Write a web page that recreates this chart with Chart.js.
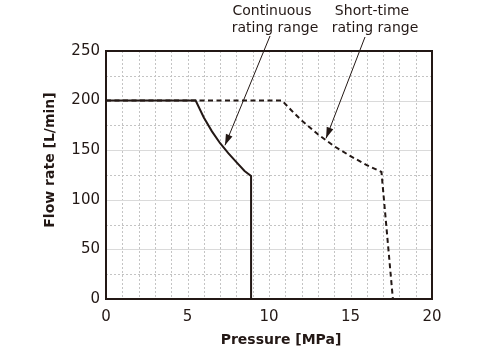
<!DOCTYPE html>
<html>
<head>
<meta charset="utf-8">
<script src="https://cdn.jsdelivr.net/npm/chart.js@4/dist/chart.umd.min.js"></script>
<style>
html,body{margin:0;padding:0;background:#fff;}
#wrap{width:501px;height:356px;position:relative;}
</style>
</head>
<body>
<div id="wrap"><canvas id="c" width="501" height="356"></canvas></div>
<script>
// Data
const continuousP = [0, 5.5, 6, 6.5, 7, 7.5, 8, 8.5, 8.9, 8.9];
const continuousQ = [200, 200, 183, 169, 157, 147, 138, 129, 124, 0];
const shortP = [0, 10.8, 11.5, 12, 13, 14, 15, 16, 16.9, 17.6];
const shortQ = [200, 200, 188, 180, 166, 154, 144, 135, 128, 0];
const xTicks = [0, 5, 10, 15, 20];
const yTicks = [0, 50, 100, 150, 200, 250];
const xTitle = 'Pressure [MPa]';
const yTitle = 'Flow rate [L/min]';
const noteContinuous = ['Continuous', 'rating range'];
const noteShort = ['Short-time', 'rating range'];
const noteContinuousTarget = [7.3, 155];
const noteShortTarget = [13.5, 162];

const INK = '#231815';
const toPts = (xs, ys) => xs.map((x, i) => ({x: x, y: ys[i]}));

const deco = {
  id: 'deco',
  beforeDatasetsDraw(chart) {
    const {ctx, chartArea: a, scales: {x, y}} = chart;
    ctx.save();
    ctx.lineWidth = 1;
    // minor dotted grid
    ctx.strokeStyle = '#c4c4c4';
    ctx.setLineDash([2, 2]);
    for (let v = 1; v < 20; v++) {
      const px = Math.round(x.getPixelForValue(v)) + 0.5;
      ctx.beginPath(); ctx.moveTo(px, a.top); ctx.lineTo(px, a.bottom); ctx.stroke();
    }
    for (let v = 25; v < 250; v += 50) {
      const py = Math.round(y.getPixelForValue(v)) + 0.5;
      ctx.beginPath(); ctx.moveTo(a.left, py); ctx.lineTo(a.right, py); ctx.stroke();
    }
    // major solid horizontal grid
    ctx.setLineDash([]);
    ctx.strokeStyle = '#dadada';
    for (let v = 50; v < 250; v += 50) {
      const py = Math.round(y.getPixelForValue(v)) + 0.5;
      ctx.beginPath(); ctx.moveTo(a.left, py); ctx.lineTo(a.right, py); ctx.stroke();
    }
    ctx.restore();
  },
  afterDatasetsDraw(chart) {
    const {ctx, chartArea: a, scales: {x, y}} = chart;
    ctx.save();
    ctx.strokeStyle = INK;
    ctx.lineWidth = 2;
    ctx.strokeRect(a.left, a.top, a.right - a.left, a.bottom - a.top);

    // titles
    ctx.fillStyle = INK;
    ctx.font = 'bold 14px "DejaVu Sans"';
    ctx.textAlign = 'center';
    ctx.textBaseline = 'middle';
    ctx.fillText(xTitle, 281, 340);
    ctx.save();
    ctx.translate(50, 160);
    ctx.rotate(-Math.PI / 2);
    ctx.fillText(yTitle, 0, 0);
    ctx.restore();

    // annotations
    ctx.font = '14px "DejaVu Sans"';
    ctx.textAlign = 'center';
    ctx.fillText(noteContinuous[0], 272, 11);
    ctx.fillText(noteContinuous[1], 275, 28);
    ctx.fillText(noteShort[0], 372, 11);
    ctx.fillText(noteShort[1], 375, 28);

    const arrow = (sx, sy, tx, ty) => {
      ctx.lineWidth = 1;
      ctx.beginPath(); ctx.moveTo(sx, sy); ctx.lineTo(tx, ty); ctx.stroke();
      const ang = Math.atan2(ty - sy, tx - sx);
      const L = 11, W = 3.5;
      const bx = tx - L * Math.cos(ang), by = ty - L * Math.sin(ang);
      ctx.beginPath();
      ctx.moveTo(tx, ty);
      ctx.lineTo(bx + W * Math.sin(ang), by - W * Math.cos(ang));
      ctx.lineTo(bx - W * Math.sin(ang), by + W * Math.cos(ang));
      ctx.closePath(); ctx.fill();
    };
    arrow(270, 36, x.getPixelForValue(noteContinuousTarget[0]), y.getPixelForValue(noteContinuousTarget[1]));
    arrow(365, 37, x.getPixelForValue(noteShortTarget[0]), y.getPixelForValue(noteShortTarget[1]));
    ctx.restore();
  }
};

new Chart(document.getElementById('c'), {
  type: 'scatter',
  data: {
    datasets: [
      {
        label: 'Short-time rating range',
        data: toPts(shortP, shortQ),
        showLine: true,
        borderColor: INK,
        borderWidth: 2,
        borderDash: [5, 3.5],
        pointRadius: 0,
        tension: 0,
        fill: false
      },
      {
        label: 'Continuous rating range',
        data: toPts(continuousP, continuousQ),
        showLine: true,
        borderColor: INK,
        borderWidth: 2,
        pointRadius: 0,
        tension: 0,
        fill: false
      }
    ]
  },
  options: {
    responsive: false,
    animation: false,
    layout: {padding: {left: 0, top: 51, right: 69, bottom: 0}},
    plugins: {legend: {display: false}, tooltip: {enabled: false}},
    scales: {
      x: {
        type: 'linear', min: 0, max: 20,
        afterBuildTicks: s => { s.ticks = xTicks.map(v => ({value: v})); },
        afterFit: s => { s.height = 57; },
        grid: {display: false, drawTicks: false},
        border: {display: false},
        ticks: {color: INK, padding: 9, font: {family: 'DejaVu Sans', size: 15}, maxRotation: 0}
      },
      y: {
        type: 'linear', min: 0, max: 250,
        afterBuildTicks: s => { s.ticks = yTicks.map(v => ({value: v})); },
        afterFit: s => { s.width = 106; },
        grid: {display: false, drawTicks: false},
        border: {display: false},
        ticks: {color: INK, padding: 6, font: {family: 'DejaVu Sans', size: 15}}
      }
    }
  },
  plugins: [deco]
});
</script>
</body>
</html>
